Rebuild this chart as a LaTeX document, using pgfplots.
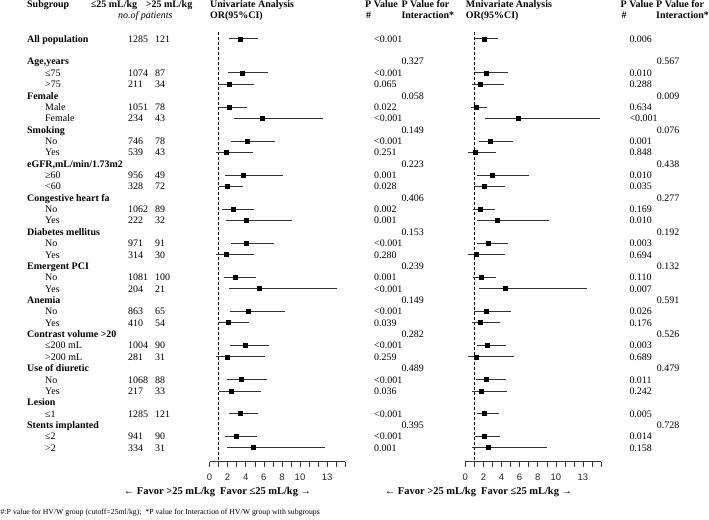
\documentclass[border=0pt]{standalone}
\usepackage{fontspec}
\setmainfont{Liberation Serif}
\setsansfont{Liberation Sans}
\usepackage{pgfplots}
\usepackage{pgfplotstable}
\pgfplotsset{compat=1.18}

\pgfplotstableread{
row est lo hi
0 3.34 2.12 5.39
3 3.63 2.01 6.50
4 2.19 0.97 4.95
6 2.15 1.05 4.18
7 5.80 2.71 12.57
9 4.14 2.38 7.24
10 1.82 0.72 4.84
12 3.73 1.75 8.09
13 2.01 1.05 3.73
15 2.67 1.41 4.95
16 4.11 1.82 9.12
18 4.11 2.41 7.09
19 1.79 0.68 4.95
21 2.85 1.60 5.17
22 5.50 2.19 14.12
24 4.29 2.27 8.34
25 2.12 0.97 4.33
27 3.89 2.27 6.54
28 1.93 0.72 6.13
30 3.48 1.97 6.32
31 2.45 1.01 5.66
33 3.34 2.12 5.39
35 3.00 1.75 5.25
36 4.88 1.90 12.76
}\unitable

\pgfplotstableread{
row est lo hi
0 2.07 1.07 3.58
3 2.36 1.07 4.69
4 1.66 0.74 4.31
6 1.18 0.63 2.43
7 5.79 2.21 14.92
9 2.80 1.48 5.27
10 1.10 0.33 3.43
12 3.02 1.29 7.01
13 2.10 1.00 4.35
15 1.62 0.81 3.28
16 3.50 1.29 9.22
18 2.51 1.29 4.69
19 1.25 0.33 4.35
21 1.73 0.88 3.36
22 4.46 1.48 13.41
24 2.29 1.00 5.01
25 1.70 0.77 3.83
27 2.40 1.29 4.46
28 1.25 0.29 5.42
30 2.29 1.18 4.46
31 1.73 0.77 4.64
33 2.10 1.25 3.68
35 2.10 1.07 3.83
36 2.54 0.77 9.07
}\multitable

\pgfplotsset{forest/.style={
  scale only axis, width=135.75bp, height=429.5bp, anchor=south west,
  xmin=0, xmax=15, ymin=-37.22, ymax=0.59,
  axis x line*=bottom, axis y line=none,
  xtick={0,...,15}, xticklabels={0,,2,,4,,6,,8,,10,,,13,,},
  tick align=outside, major tick length=5bp,
  every tick/.style={black!80, line width=0.5pt},
  x axis line style={black!80, line width=0.5pt},
  xticklabel style={font=\sffamily\fontsize{9.5}{11}\selectfont, text=black!85, yshift=-4bp},
  clip=false,
}}

\newcommand\Grp[2]{\node[anchor=base west, inner sep=0, font=\bfseries\fontsize{10}{12}\selectfont] at (27,{42.2+11.36*#1}) {#2};}
\newcommand\Sub[4]{%
  \node[anchor=base west, inner sep=0] at (45,{42.2+11.36*#1}) {#2};
  \node[anchor=base west, inner sep=0] at (128,{42.2+11.36*#1}) {#3};
  \node[anchor=base west, inner sep=0] at (155,{42.2+11.36*#1}) {#4};}
\newcommand\Pv[3]{\node[anchor=base west, inner sep=0] at (#1,{42.2+11.36*#2}) {#3};}

\begin{document}
\begin{tikzpicture}[every node/.style={font=\fontsize{10}{12}\selectfont}]
\useasboundingbox (0,0) rectangle (709bp,-520bp);

\begin{axis}[forest, at={(209.5bp,-461.5bp)}]
\addplot[black, line width=0.6pt, dash pattern=on 3bp off 2bp] coordinates {(1,0.59) (1,-37.22)};
\addplot[only marks, mark=square*, mark size=2bp, black,
  error bars/.cd, x dir=both, x explicit, error mark=none,
  error bar style={line width=0.7pt, black!80}]
  table[x=est, y expr=-\thisrow{row}, x error plus expr=\thisrow{hi}-\thisrow{est}, x error minus expr=\thisrow{est}-\thisrow{lo}] {\unitable};
\end{axis}

\begin{axis}[forest, at={(465.3bp,-461.5bp)}]
\addplot[black, line width=0.6pt, dash pattern=on 3bp off 2bp] coordinates {(1,0.59) (1,-37.22)};
\addplot[only marks, mark=square*, mark size=2bp, black,
  error bars/.cd, x dir=both, x explicit, error mark=none,
  error bar style={line width=0.7pt, black!80}]
  table[x=est, y expr=-\thisrow{row}, x error plus expr=\thisrow{hi}-\thisrow{est}, x error minus expr=\thisrow{est}-\thisrow{lo}] {\multitable};
\end{axis}

\begin{scope}[x=1bp, y=-1bp]
% headers
\begin{scope}[every node/.style={anchor=base west, inner sep=0, font=\bfseries\fontsize{10}{12}\selectfont}]
\node at (27,7.7) {Subgroup};
\node at (90.7,7.7) {≤25 mL/kg};
\node at (145.7,7.7) {>25 mL/kg};
\node at (210,7.7) {Univariate Analysis};
\node at (210,18.5) {OR(95\%CI)};
\node at (365,7.7) {P Value};
\node at (366,18.5) {\#};
\node at (401.3,7.7) {P Value for};
\node at (401.3,18.5) {Interaction*};
\node at (465.7,7.7) {Mnivariate Analysis};
\node at (465.7,18.5) {OR(95\%CI)};
\node at (620.5,7.7) {P Value};
\node at (621.5,18.5) {\#};
\node at (656,7.7) {P Value for};
\node at (656,18.5) {Interaction*};
\end{scope}
\node[anchor=base west, inner sep=0, font=\itshape\fontsize{10}{12}\selectfont] at (118,18.5) {no.of patients};

% left table
\Grp{0}{All population}
\node[anchor=base west, inner sep=0] at (128,{42.2}) {1285};
\node[anchor=base west, inner sep=0] at (155,{42.2}) {121};
\Grp{2}{Age,years}
\Sub{3}{≤75}{1074}{87}
\Sub{4}{>75}{211}{34}
\Grp{5}{Female}
\Sub{6}{Male}{1051}{78}
\Sub{7}{Female}{234}{43}
\Grp{8}{Smoking}
\Sub{9}{No}{746}{78}
\Sub{10}{Yes}{539}{43}
\Grp{11}{eGFR,mL/min/1.73m2}
\Sub{12}{≥60}{956}{49}
\Sub{13}{<60}{328}{72}
\Grp{14}{Congestive heart fa}
\Sub{15}{No}{1062}{89}
\Sub{16}{Yes}{222}{32}
\Grp{17}{Diabetes mellitus}
\Sub{18}{No}{971}{91}
\Sub{19}{Yes}{314}{30}
\Grp{20}{Emergent PCI}
\Sub{21}{No}{1081}{100}
\Sub{22}{Yes}{204}{21}
\Grp{23}{Anemia}
\Sub{24}{No}{863}{65}
\Sub{25}{Yes}{410}{54}
\Grp{26}{Contrast volume >20}
\Sub{27}{≤200 mL}{1004}{90}
\Sub{28}{>200 mL}{281}{31}
\Grp{29}{Use of diuretic}
\Sub{30}{No}{1068}{88}
\Sub{31}{Yes}{217}{33}
\Grp{32}{Lesion}
\Sub{33}{≤1}{1285}{121}
\Grp{34}{Stents implanted}
\Sub{35}{≤2}{941}{90}
\Sub{36}{>2}{334}{31}

% univariate p values
\foreach \r/\p in {0/<0.001,3/<0.001,4/0.065,6/0.022,7/<0.001,9/<0.001,10/0.251,12/0.001,13/0.028,15/0.002,16/0.001,18/<0.001,19/0.280,21/0.001,22/<0.001,24/<0.001,25/0.039,27/<0.001,28/0.259,30/<0.001,31/0.036,33/<0.001,35/<0.001,36/0.001}
  {\Pv{374}{\r}{\p}}
\foreach \r/\p in {2/0.327,5/0.058,8/0.149,11/0.223,14/0.406,17/0.153,20/0.239,23/0.149,26/0.282,29/0.489,34/0.395}
  {\Pv{401.3}{\r}{\p}}
% multivariate p values
\foreach \r/\p in {0/0.006,3/0.010,4/0.288,6/0.634,7/<0.001,9/0.001,10/0.848,12/0.010,13/0.035,15/0.169,16/0.010,18/0.003,19/0.694,21/0.110,22/0.007,24/0.026,25/0.176,27/0.003,28/0.689,30/0.011,31/0.242,33/0.005,35/0.014,36/0.158}
  {\Pv{629.3}{\r}{\p}}
\foreach \r/\p in {2/0.567,5/0.009,8/0.076,11/0.438,14/0.277,17/0.192,20/0.132,23/0.591,26/0.526,29/0.479,34/0.728}
  {\Pv{656.7}{\r}{\p}}

% favor labels
\node[anchor=base, inner sep=0, font=\bfseries\fontsize{10.5}{12}\selectfont] at (217.5,494.5) {← Favor >25 mL/kg\ \ Favor ≤25 mL/kg →};
\node[anchor=base, inner sep=0, font=\bfseries\fontsize{10.5}{12}\selectfont] at (478.5,494.5) {← Favor >25 mL/kg\ \ Favor ≤25 mL/kg →};

% footnote
\node[anchor=base west, inner sep=0, font=\fontsize{7.8}{9}\selectfont] at (0.5,514) {\#:P value for HV/W group (cutoff=25ml/kg);\ \ *P value for Interaction of HV/W group with subgroups};
\end{scope}
\end{tikzpicture}
\end{document}
